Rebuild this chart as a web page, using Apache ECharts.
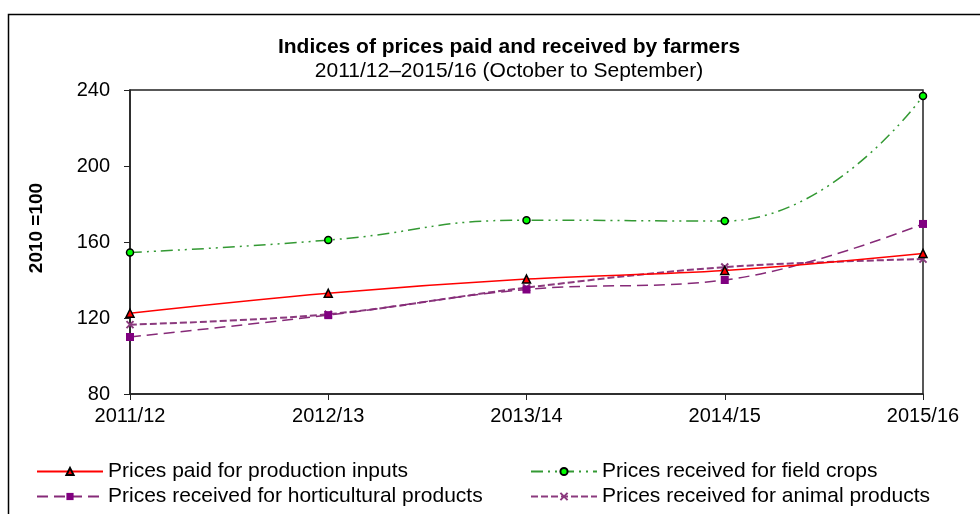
<!DOCTYPE html>
<html>
<head>
<meta charset="utf-8">
<script src="https://cdn.jsdelivr.net/npm/echarts@6/dist/echarts.min.js"></script>
<style>
html,body{margin:0;padding:0;background:#fff;}
#chart{width:980px;height:514px;}
</style>
</head>
<body>
<div id="chart"></div>
<script>
var categories = ['2011/12', '2012/13', '2013/14', '2014/15', '2015/16'];
var inputsPaid = [122.5, 133, 140.5, 145, 154];
var fieldCrops = [154.5, 161, 171.5, 171, 236.8];
var horticultural = [110, 121.5, 135, 140, 169.5];
var animal = [116.5, 122, 136, 146.8, 151];
var yTicks = { min: 80, max: 240, interval: 40 };
var titleText = 'Indices of prices paid and received by farmers';
var subtitleText = '2011/12\u20132015/16 (October to September)';
var yName = '2010 =100';
var names = ['Prices paid for production inputs', 'Prices received for field crops',
             'Prices received for horticultural products', 'Prices received for animal products'];

var FONT = 'Liberation Sans, Arial, sans-serif';
var chart = echarts.init(document.getElementById('chart'), null, { renderer: 'canvas' });

var legendText = { fontFamily: FONT, fontSize: 21, color: '#000' };

chart.setOption({
  animation: false,
  backgroundColor: '#fff',
  title: {
    text: titleText,
    subtext: subtitleText,
    left: 504, top: 32, textAlign: 'center',
    itemGap: 3,
    textStyle: { fontFamily: FONT, fontSize: 21, fontWeight: 'bold', color: '#000' },
    subtextStyle: { fontFamily: FONT, fontSize: 21, color: '#000' }
  },
  graphic: [{
    type: 'polyline',
    shape: { points: [[8.5, 514], [8.5, 14.5], [980, 14.5]] },
    style: { stroke: '#000', lineWidth: 1.5, fill: null },
    silent: true
  }],
  legend: [{
    orient: 'vertical', left: 31, top: 456,
    data: [names[0], names[2]],
    itemWidth: 66, itemHeight: 9, itemGap: 4,
    textStyle: legendText
  }, {
    orient: 'vertical', left: 525, top: 456,
    data: [names[1], names[3]],
    itemWidth: 66, itemHeight: 9, itemGap: 4,
    textStyle: legendText
  }],
  grid: {
    left: 130, right: 57, top: 90, bottom: 120,
    show: true, borderColor: '#222', borderWidth: 1.5, backgroundColor: 'transparent'
  },
  xAxis: {
    type: 'category', data: categories, boundaryGap: false,
    axisLine: { lineStyle: { color: '#222', width: 1.5 } },
    axisTick: { show: true, alignWithLabel: true, length: 6, lineStyle: { color: '#222' } },
    axisLabel: { fontFamily: FONT, fontSize: 20, color: '#000', margin: 12 },
    splitLine: { show: false }
  },
  yAxis: {
    type: 'value', min: yTicks.min, max: yTicks.max, interval: yTicks.interval,
    name: yName, nameLocation: 'middle', nameGap: 84, nameRotate: 90,
    nameTextStyle: { fontFamily: FONT, fontSize: 19, fontWeight: 'bold', color: '#000', padding: [0, 0, 0, 28] },
    axisLine: { show: true, lineStyle: { color: '#222', width: 1.5 } },
    axisTick: { show: true, length: 6, lineStyle: { color: '#222' } },
    axisLabel: { fontFamily: FONT, fontSize: 20, color: '#000', margin: 20 },
    splitLine: { show: false }
  },
  series: [{
    name: names[0], type: 'line', data: inputsPaid, smooth: 0.35,
    symbol: 'triangle', symbolSize: 8,
    lineStyle: { color: '#ff0000', width: 1.5 },
    itemStyle: { color: '#ff0000', borderColor: '#000', borderWidth: 1.5 },
    z: 5
  }, {
    name: names[1], type: 'line', data: fieldCrops, smooth: 0.5,
    symbol: 'circle', symbolSize: 7,
    lineStyle: { color: '#339933', width: 1.5, type: [12, 5, 2, 5, 2, 5] },
    itemStyle: { color: '#00ff00', borderColor: '#000', borderWidth: 1.5 },
    z: 4
  }, {
    name: names[2], type: 'line', data: horticultural, smooth: 0.4,
    symbol: 'rect', symbolSize: 8,
    lineStyle: { color: '#862a78', width: 1.5, type: [11, 6] },
    itemStyle: { color: '#800080', borderColor: '#800080', borderWidth: 0 },
    z: 3
  }, {
    name: names[3], type: 'line', data: animal, smooth: 0.35,
    symbol: 'path://M0,0 L10,10 M10,0 L0,10', symbolSize: 7,
    lineStyle: { color: '#8b3a7e', width: 2, type: [7, 3] },
    itemStyle: { color: '#8b3a7e', borderColor: '#8b3a7e', borderWidth: 2 },
    z: 2
  }]
});
</script>
</body>
</html>
